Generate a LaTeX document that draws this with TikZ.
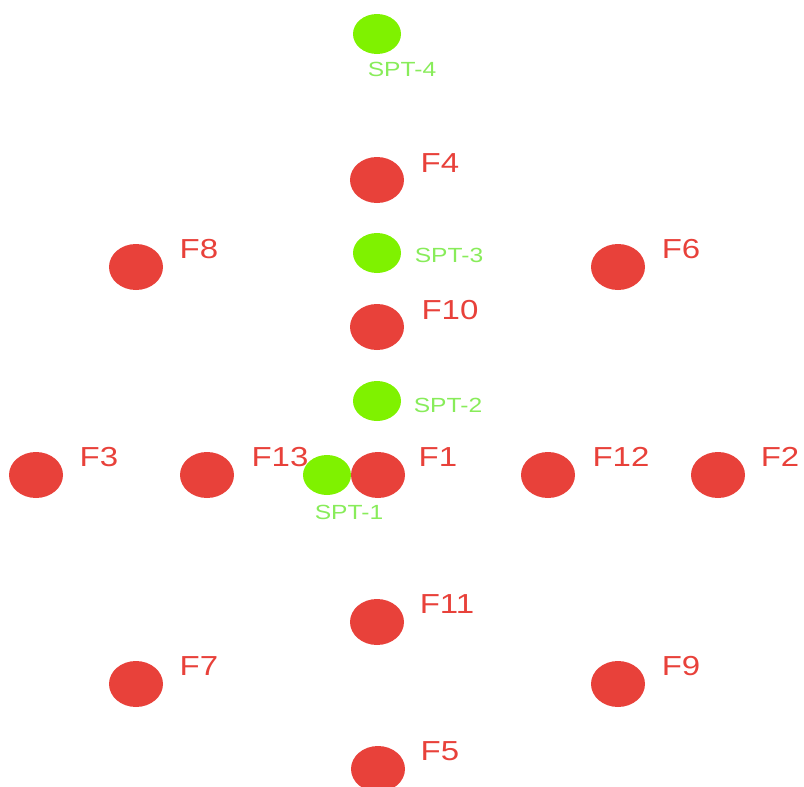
\documentclass[tikz,border=0pt]{standalone}
\usepackage{fontspec}
\setmainfont{Liberation Sans}
\newfontfamily\etiq[FakeStretch=1.2]{Liberation Sans}
\usetikzlibrary{shapes.geometric}

\definecolor{rojo}{HTML}{E8413A}
\definecolor{verde}{HTML}{7FF200}
\definecolor{verdeclaro}{HTML}{88EC5A}

\tikzset{
    fuente/.style={ellipse, fill=rojo, inner sep=0pt, minimum width=54pt, minimum height=46pt},
    sensor/.style={ellipse, fill=verde, inner sep=0pt, minimum width=48pt, minimum height=40pt},
    nombreF/.style={text=rojo, inner sep=0pt, font=\etiq\fontsize{27.5}{31}\selectfont},
    nombreS/.style={text=verdeclaro, inner sep=0pt, font=\etiq\fontsize{20.5}{24}\selectfont}
}

\begin{document}
\begin{tikzpicture}[x=1pt, y=-1pt]
        % Marco
        \useasboundingbox (0, 0) rectangle (804, 787);

        % Fuentes F
        \node[fuente] (F4) at (377, 180) {};
        \node[fuente] (F8) at (136, 267) {};
        \node[fuente] (F6) at (618, 267) {};
        \node[fuente] (F10) at (377, 327) {};
        \node[fuente] (F3) at (36, 475) {};
        \node[fuente] (F13) at (207, 475) {};
        \node[fuente] (F1) at (378, 475) {};
        \node[fuente] (F12) at (548, 475) {};
        \node[fuente] (F2) at (718, 475) {};
        \node[fuente] (F11) at (377, 622) {};
        \node[fuente] (F7) at (136, 684) {};
        \node[fuente] (F9) at (618, 684) {};
        \node[fuente] (F5) at (378, 769) {};

        % Nombres de las fuentes
        \node[nombreF] (F4-txt) at (440, 163) {F4};
        \node[nombreF] (F8-txt) at (199, 249) {F8};
        \node[nombreF] (F6-txt) at (681, 249) {F6};
        \node[nombreF] (F10-txt) at (450, 310) {F10};
        \node[nombreF] (F3-txt) at (99, 457) {F3};
        \node[nombreF] (F13-txt) at (280, 457) {F13};
        \node[nombreF] (F1-txt) at (438, 457) {F1};
        \node[nombreF] (F12-txt) at (621, 457) {F12};
        \node[nombreF] (F2-txt) at (780, 457) {F2};
        \node[nombreF] (F11-txt) at (447, 604) {F11};
        \node[nombreF] (F7-txt) at (199, 666) {F7};
        \node[nombreF] (F9-txt) at (681, 666) {F9};
        \node[nombreF] (F5-txt) at (440, 751) {F5};

        % Puntos SPT
        \node[sensor] (SPT4) at (377, 34) {};
        \node[sensor] (SPT3) at (377, 253) {};
        \node[sensor] (SPT2) at (377, 401) {};
        \node[sensor] (SPT1) at (327, 475) {};

        % Nombres de los puntos SPT
        \node[nombreS] (SPT4-txt) at (402, 69) {SPT-4};
        \node[nombreS] (SPT3-txt) at (449, 255) {SPT-3};
        \node[nombreS] (SPT2-txt) at (448, 405) {SPT-2};
        \node[nombreS] (SPT1-txt) at (349, 512) {SPT-1};
    \end{tikzpicture}
\end{document}
